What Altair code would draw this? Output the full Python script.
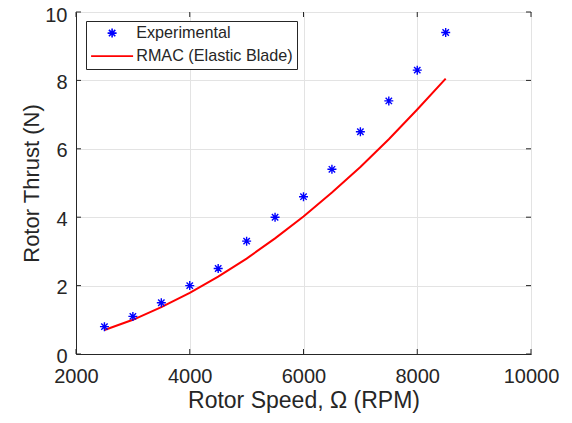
import altair as alt
import pandas as pd

rpm = [2500, 3000, 3500, 4000, 4500, 5000, 5500, 6000, 6500, 7000, 7500, 8000, 8500]
thrust_exp = [0.8, 1.1, 1.5, 2.0, 2.5, 3.3, 4.0, 4.6, 5.4, 6.5, 7.4, 8.3, 9.4]
thrust_rmac = [0.70, 1.00, 1.37, 1.79, 2.26, 2.79, 3.38, 4.02, 4.72, 5.47, 6.28, 7.15, 8.05]
series = ["Experimental", "RMAC (Elastic Blade)"]
x_ticks = [2000, 4000, 6000, 8000, 10000]
y_ticks = [0, 2, 4, 6, 8, 10]

W, H = 455, 342
FONT = "Liberation Sans"
TXT = "#262626"

exp_df = pd.DataFrame({"rpm": rpm, "thrust": thrust_exp, "series": series[0]})
rmac_df = pd.DataFrame({"rpm": rpm, "thrust": thrust_rmac, "series": series[1]})
xt_df = pd.DataFrame({"rpm": x_ticks})
yt_df = pd.DataFrame({"thrust": y_ticks})

ASTER = "M-0.9,0L0.9,0M0,-0.9L0,0.9M-0.64,-0.64L0.64,0.64M-0.64,0.64L0.64,-0.64"
LINE = "M-4.2,0L4.2,0"

xscale = alt.Scale(domain=[2000, 10000], nice=False, zero=False)
yscale = alt.Scale(domain=[0, 10], nice=False)
color = alt.Color("series:N", scale=alt.Scale(domain=series, range=["#0000ff", "#ff0000"]),
                  legend=alt.Legend(title=None, orient="none", legendX=10, legendY=9,
                                    padding=4, symbolOffset=14, labelOffset=16, rowPadding=6,
                                    symbolSize=100, symbolStrokeWidth=1.6,
                                    labelFont=FONT, labelFontSize=16.2, labelColor=TXT,
                                    strokeColor="#262626", fillColor="white", labelLimit=400))
shape = alt.Shape("series:N", scale=alt.Scale(domain=series, range=[ASTER, LINE]),
                  legend=alt.Legend(title=None))

xaxis = alt.Axis(title="Rotor Speed, Ω (RPM)", values=x_ticks, grid=True, ticks=False, format="d",
                 labelFlush=False, labelPadding=12, titleY=53, titleBaseline="alphabetic",
                 titleFontSize=23)
yaxis = alt.Axis(title="Rotor Thrust (N)", values=y_ticks, grid=True, ticks=False, format="d",
                 labelFlush=False, labelPadding=9,
                 labelOffset={"condition": {"test": "datum.value == 10", "value": 3.5}, "value": 2},
                 titleX=-38, titleBaseline="alphabetic", titleFontSize=22)

X = alt.X("rpm:Q", scale=xscale, axis=xaxis)
Y = alt.Y("thrust:Q", scale=yscale, axis=yaxis)

line = alt.Chart(rmac_df).mark_line(strokeWidth=2).encode(x=X, y=Y, color=color)
pts = alt.Chart(exp_df).mark_point(filled=False, size=100, strokeWidth=1.4, opacity=1).encode(
    x=X, y=Y, color=color, shape=shape,
)

tk = dict(color=TXT, strokeWidth=1)
bt = alt.Chart(xt_df).mark_rule(**tk).encode(x=X, y=alt.value(H - 5), y2=alt.value(H))
tt = alt.Chart(xt_df).mark_rule(**tk).encode(x=X, y=alt.value(0), y2=alt.value(5))
lt = alt.Chart(yt_df).mark_rule(**tk).encode(y=Y, x=alt.value(0), x2=alt.value(5))
rt = alt.Chart(yt_df).mark_rule(**tk).encode(y=Y, x=alt.value(W - 5), x2=alt.value(W))

chart = alt.layer(line, pts, bt, tt, lt, rt).properties(
    width=W, height=H,
    background="white",
    autosize=alt.AutoSizeParams(type="none"),
    padding={"left": 68, "top": 4, "right": 33, "bottom": 60},
).configure_view(stroke=TXT, strokeWidth=1).configure_axis(
    labelFont=FONT, labelFontSize=20, labelColor=TXT,
    titleFont=FONT, titleColor=TXT, titleFontWeight="normal",
    domainColor=TXT, gridColor="#e3e3e3", gridWidth=1,
)

chart.save("out.html", embed_options={"renderer": "svg", "actions": False})
